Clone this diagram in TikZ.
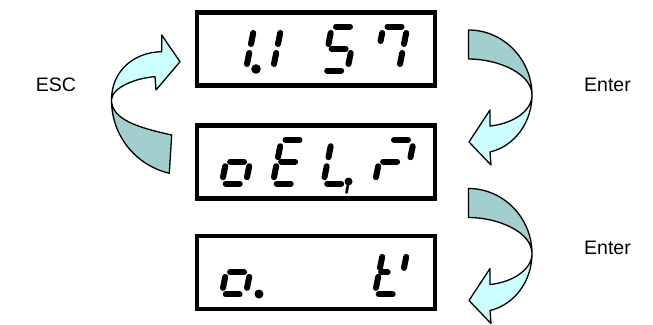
\documentclass[tikz,border=0pt]{standalone}
\usepackage{fontspec}
\setmainfont{Liberation Sans}
\definecolor{lightc}{RGB}{204,255,255}
\definecolor{darkc}{RGB}{163,206,206}
\newcommand\dX{0}
\newcommand\dY{0}
\newcommand\sg[4]{\draw[seg] ({\dX+#1-0.2*#2},{\dY+#2}) -- ({\dX+#3-0.2*#4},{\dY+#4});}
\newcommand\SA{\sg{4}{0}{18}{0}}
\newcommand\SB{\sg{24}{6.5}{24}{17.5}}
\newcommand\SC{\sg{24}{26.5}{24}{37.5}}
\newcommand\SD{\sg{4}{44}{18}{44}}
\newcommand\SE{\sg{0}{26.5}{0}{37.5}}
\newcommand\SF{\sg{0}{6.5}{0}{17.5}}
\newcommand\SG{\sg{4}{22}{18}{22}}
\newcommand\at[2]{\renewcommand\dX{#1}\renewcommand\dY{#2}}
\begin{document}
\begin{tikzpicture}[x=1pt,y=-1pt,
  dispbox/.style={draw=black, line width=4.7pt, minimum width=238pt, minimum height=73pt, inner sep=0pt},
  seg/.style={line width=6pt, line cap=round},
  band/.style={draw=black, line width=1.3pt, line join=round},
  lbl/.style={font=\fontsize{19.5}{23}\selectfont, inner sep=0pt}]
\useasboundingbox (0,0) rectangle (653,324);

% display frames
\node[dispbox] (disp1) at (316,48.7) {};
\node[dispbox] (disp2) at (316,161.7) {};
\node[dispbox] (disp3) at (316,272.4) {};

% top display: 1.1 57
\at{230.5}{26.5}\SB\SC
\fill (256,69) circle (4.8);
\at{281.5}{26.5}\SF\SE
\at{332}{26.5}\SA\SF\SG\SC\SD
\at{383.5}{26.5}\SA\SB\SC\sg{0}{6.5}{0}{14.5}

% middle display
\at{230.5}{139.7}\SG\SC\SD\SE
\at{281.5}{139.7}\SA\SF\SG\SE\SD
\at{332}{139.7}\SF\SE\SD
\fill (348.5,181.5) circle (4);
\draw[line width=2.6pt, line cap=round] (348.5,182) -- (346.5,192.5);
\at{383.5}{139.7}\SE\SG
\at{390}{139.7}\SA\SB

% bottom display
\at{230.5}{250.4}\SG\SC\SD\SE
\fill (259,294) circle (4.5);
\at{383.5}{250.4}\SF\SE\SD\SB\sg{2}{22}{8.5}{22}

% ESC arrow (left)
\filldraw[band, fill=darkc] (169.3,173.3) .. controls (135,165) and (111.5,135) .. (111.5,100)
  .. controls (111.5,120) and (140,128) .. (171.7,135) -- cycle;
\filldraw[band, fill=lightc] (111.5,100) .. controls (111.5,70) and (135,52) .. (161.7,51.7)
  -- (161.7,35) -- (180,61.7) -- (156,90) -- (155,76.7)
  .. controls (135,78) and (111.5,88) .. (111.5,100) -- cycle;

% Enter arrows (right)
\foreach \dy in {0,158.5}{
\begin{scope}[shift={(0,\dy)}]
\filldraw[band, fill=darkc] (468.5,30) .. controls (504,30) and (532,60) .. (532,95)
  .. controls (532,74) and (499,59) .. (468.5,59) -- cycle;
\filldraw[band, fill=lightc] (532,95) .. controls (532,122) and (515,146) .. (490,152)
  -- (491,165) -- (469,142) -- (490,110) -- (490,126)
  .. controls (511,124) and (532,112) .. (532,95) -- cycle;
\end{scope}}

% labels
\node[lbl] (esc) at (56,85) {ESC};
\node[lbl] (enter1) at (607.5,85) {Enter};
\node[lbl] (enter2) at (607.5,248) {Enter};
\end{tikzpicture}
\end{document}
